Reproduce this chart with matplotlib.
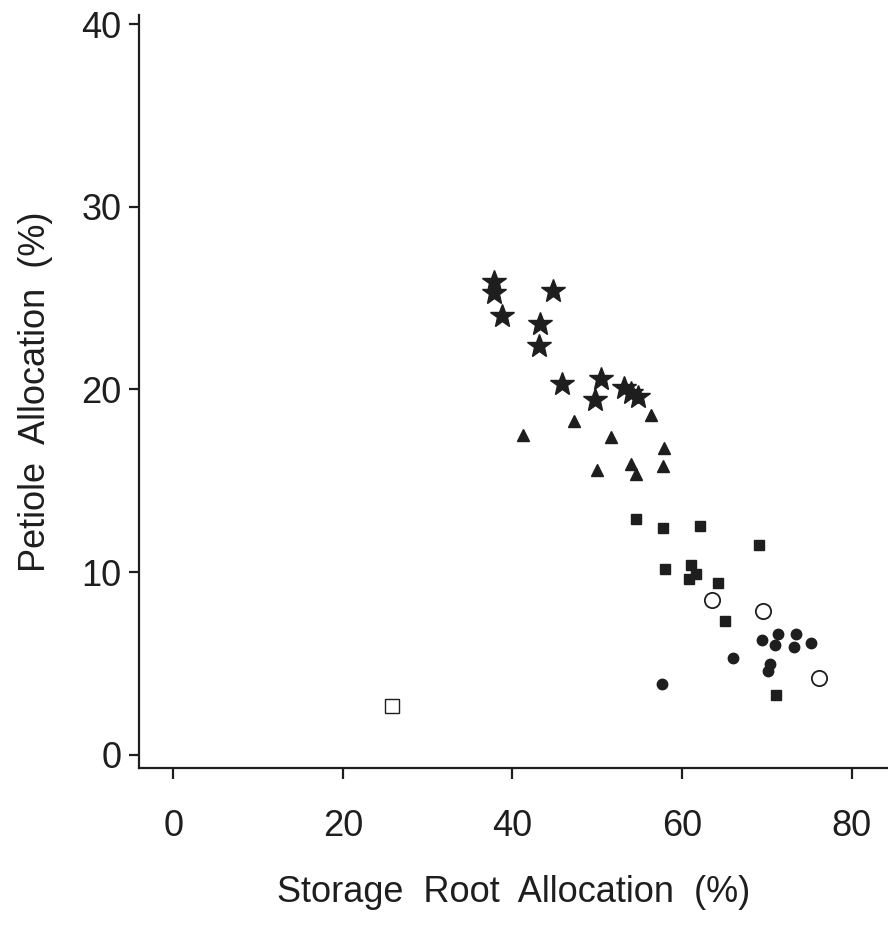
import matplotlib
matplotlib.use("Agg")
import matplotlib.pyplot as plt

plt.rcParams['font.family'] = ['Liberation Sans', 'DejaVu Sans']

# Storage root allocation (%) vs petiole allocation (%) per group
star_x = [37.8, 37.8, 44.8, 38.8, 43.3, 43.1, 45.8, 50.4, 49.7, 53.2, 54.0, 54.8]
star_y = [25.9, 25.3, 25.4, 24.0, 23.6, 22.4, 20.3, 20.6, 19.4, 20.1, 19.8, 19.6]

tri_x = [41.2, 47.3, 56.4, 51.6, 57.9, 57.8, 50.0, 54.0, 54.6]
tri_y = [17.5, 18.3, 18.6, 17.4, 16.8, 15.8, 15.6, 15.9, 15.4]

sq_x = [54.6, 57.8, 62.1, 69.1, 58.0, 61.1, 61.6, 60.8, 64.2, 65.1, 71.1]
sq_y = [12.9, 12.4, 12.5, 11.5, 10.2, 10.4, 9.9, 9.6, 9.4, 7.3, 3.3]

dot_x = [69.4, 71.3, 73.5, 71.0, 73.2, 75.2, 66.0, 70.4, 70.1, 57.6]
dot_y = [6.3, 6.6, 6.6, 6.0, 5.9, 6.1, 5.3, 5.0, 4.6, 3.9]

ring_x = [63.5, 69.5, 76.2]
ring_y = [8.5, 7.9, 4.2]

box_x = [25.8]
box_y = [2.7]

x_ticks = [0, 20, 40, 60, 80]
y_ticks = [0, 10, 20, 30, 40]

ink = '#1e1e1e'

fig = plt.figure(figsize=(8.88, 9.35), dpi=100)
ax = fig.add_axes([0.157, 0.179, 0.843, 0.805])

ax.plot(star_x, star_y, ls='none', marker='*', ms=18, color=ink, mec=ink)
ax.plot(tri_x, tri_y, ls='none', marker='^', ms=9, color=ink, mec=ink)
ax.plot(sq_x, sq_y, ls='none', marker='s', ms=7, color=ink, mec=ink)
ax.plot(dot_x, dot_y, ls='none', marker='o', ms=7.5, color=ink, mec=ink)
ax.plot(ring_x, ring_y, ls='none', marker='o', ms=11, mfc='white', mec=ink, mew=1.3)
ax.plot(box_x, box_y, ls='none', marker='s', ms=10, mfc='white', mec=ink, mew=1.0)

ax.set_xlim(-4.0, 84.3)
ax.set_ylim(-0.7, 40.5)
ax.set_xticks(x_ticks)
ax.set_yticks(y_ticks)

for side in ('top', 'right'):
    ax.spines[side].set_visible(False)
for side in ('left', 'bottom'):
    ax.spines[side].set_linewidth(1.6)
    ax.spines[side].set_color(ink)

ax.tick_params(axis='x', direction='out', length=8, width=1.6, pad=22,
               labelsize=26, colors=ink)
ax.tick_params(axis='y', direction='out', length=7, width=1.6, pad=6,
               labelsize=26, colors=ink)

ax.set_xlabel('Storage  Root  Allocation  (%)', fontsize=26, color=ink, labelpad=22)
ax.set_ylabel('Petiole  Allocation  (%)', fontsize=26, color=ink, labelpad=20)

fig.savefig('out.png', dpi=100, facecolor='white')
